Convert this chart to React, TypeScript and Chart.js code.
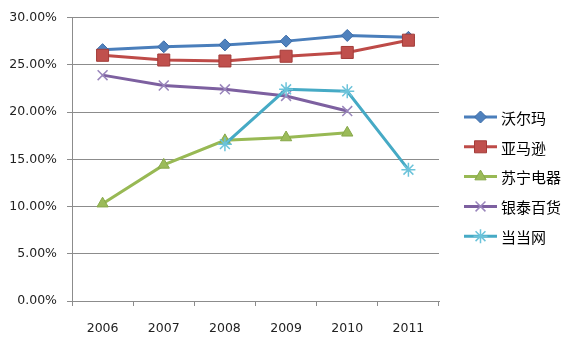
import React, { useEffect, useRef } from 'react';
import { Chart, registerables } from 'chart.js';
import { drawPoint } from 'chart.js/helpers';

Chart.register(...registerables);

const years = ['2006', '2007', '2008', '2009', '2010', '2011'];
const walmart = [0.266, 0.269, 0.271, 0.275, 0.281, 0.279];
const amazon = [0.260, 0.255, 0.254, 0.259, 0.263, 0.276];
const suning = [0.103, 0.144, 0.170, 0.173, 0.178, null];
const yintai = [0.239, 0.228, 0.224, 0.217, 0.201, null];
const dangdang = [null, null, 0.166, 0.224, 0.222, 0.139];
const seriesNames = ['沃尔玛', '亚马逊', '苏宁电器', '银泰百货', '当当网'];
const yMin = 0;
const yMax = 0.3;
const yStep = 0.05;

const lineColors = ['#4A7EBB', '#BE4B48', '#98B954', '#7D60A0', '#46AAC5'];
const markerFill = ['#4F81BD', '#C0504D', '#9BBB59', '#8064A2', '#4BACC6'];
const markerBorder = ['#3C6CA8', '#A33C39', '#87A84A', '#9A86BC', '#6CC3DA'];
const markerStyles = ['rectRot', 'rect', 'triangle', 'crossRot', 'star'];
const markerRadius = [6, 8.5, 6.5, 7, 7];

const legendPlugin = {
  id: 'sideLegend',
  afterDraw(chart: any) {
    const ctx = chart.ctx;
    const x0 = 464;
    const x1 = 497;
    const top = 117;
    const gap = 29.8;
    chart.data.datasets.forEach((ds: any, i: number) => {
      const y = top + i * gap;
      ctx.save();
      ctx.strokeStyle = ds.borderColor;
      ctx.lineWidth = 3;
      ctx.beginPath();
      ctx.moveTo(x0, y);
      ctx.lineTo(x1, y);
      ctx.stroke();
      ctx.fillStyle = ds.pointBackgroundColor;
      ctx.strokeStyle = ds.pointBorderColor;
      ctx.lineWidth = ds.pointBorderWidth;
      drawPoint(ctx, { pointStyle: ds.pointStyle, radius: ds.pointRadius, rotation: 0, borderWidth: ds.pointBorderWidth }, (x0 + x1) / 2, y);
      ctx.fillStyle = '#000';
      ctx.font = '15px "Noto Sans CJK SC", sans-serif';
      ctx.textBaseline = 'middle';
      ctx.textAlign = 'left';
      ctx.fillText(ds.label, 501, y + 1);
      ctx.restore();
    });
  },
};

export default function App() {
  const ref = useRef<HTMLCanvasElement>(null);
  useEffect(() => {
    if (!ref.current) return;
    const values = [walmart, amazon, suning, yintai, dangdang];
    const chart = new Chart(ref.current, {
      type: 'line',
      data: {
        labels: years,
        datasets: values.map((v, i) => ({
          label: seriesNames[i],
          data: v,
          borderColor: lineColors[i],
          borderWidth: 3,
          backgroundColor: markerFill[i],
          pointBackgroundColor: markerFill[i],
          pointBorderColor: i >= 3 ? markerBorder[i] : markerBorder[i],
          pointBorderWidth: i >= 3 ? 1.5 : 1,
          pointStyle: markerStyles[i] as any,
          pointRadius: markerRadius[i],
          spanGaps: false,
          tension: 0,
          order: 5 - i,
        })),
      },
      options: {
        responsive: false,
        animation: false,
        layout: { padding: { top: 16, right: 137, bottom: 0, left: 0 } },
        plugins: { legend: { display: false }, tooltip: { enabled: false } },
        scales: {
          x: {
            offset: true,
            afterFit: (s: any) => { s.height = 52; },
            grid: { offset: true, drawOnChartArea: false, drawTicks: true, tickLength: 5, color: '#8C8C8C' },
            border: { display: true, color: '#8C8C8C', width: 1 },
            ticks: {
              padding: 15,
              color: '#222',
              font: { family: '"DejaVu Sans", sans-serif', size: 12.5 },
              maxRotation: 0,
            },
          },
          y: {
            min: yMin,
            max: yMax,
            afterFit: (s: any) => { s.width = 72; },
            grid: { color: '#8C8C8C', tickLength: 5, drawTicks: true },
            border: { display: true, color: '#8C8C8C', width: 1 },
            ticks: {
              stepSize: yStep,
              padding: 10,
              color: '#222',
              font: { family: '"DejaVu Sans", sans-serif', size: 12.5 },
              callback: (v: any) => (Number(v) * 100).toFixed(2) + '%',
            },
          },
        },
      },
      plugins: [legendPlugin],
    });
    return () => chart.destroy();
  }, []);
  return (
    <div style={{ position: 'absolute', left: 0, top: 0, width: 576, height: 353, background: '#fff' }}>
      <canvas ref={ref} width={576} height={353} />
    </div>
  );
}
